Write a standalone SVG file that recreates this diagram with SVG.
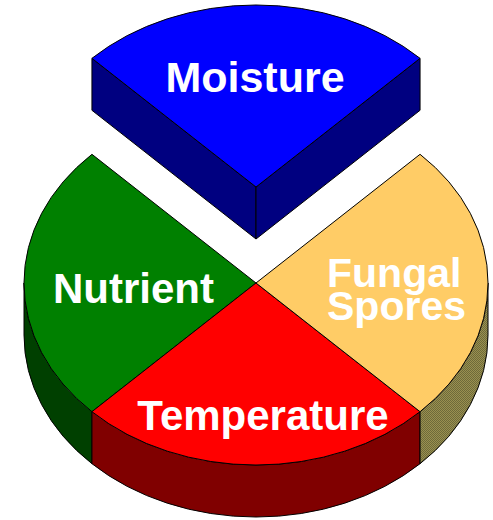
<svg xmlns="http://www.w3.org/2000/svg" width="493" height="520" viewBox="0 0 493 520">
<style>
path,polygon{stroke:#000;stroke-width:1;stroke-linejoin:round}
text{font-family:"Liberation Sans",Arial,sans-serif;font-weight:bold;fill:#fff;font-size:41px}
.c{text-anchor:middle}
.l{font-size:42px}
</style>
<defs>
<pattern id="dither" width="2" height="2" patternUnits="userSpaceOnUse">
<rect width="2" height="2" fill="#9a9050"/>
<rect width="1" height="1" fill="#6e6a3a"/>
<rect x="1" y="1" width="1" height="1" fill="#6e6a3a"/>
</pattern>
</defs>
<rect width="493" height="520" fill="#fff"/>
<g id="moisture">
<polygon points="91.95,58.3 256,187 256,239 91.95,110.3" fill="#000080"/>
<polygon points="256,187 420.05,58.3 420.05,110.3 256,239" fill="#000080"/>
<path d="M256,187 L91.95,58.3 A232,182 0 0,1 420.05,58.3 Z" fill="#0000ff"/>
<text class="c" x="255" y="92" style="font-size:43px">Moisture</text>
</g>
<g id="nutrient">
<path d="M24,283 A232,182 0 0,0 91.95,411.7 L91.95,463.7 A232,182 0 0,1 24,335 Z" fill="#004000"/>
<path d="M256,283 L91.95,154.3 A232,182 0 0,0 91.95,411.7 Z" fill="#008000"/>
<text class="c l" x="133.5" y="303">Nutrient</text>
</g>
<g id="temperature">
<path d="M91.95,411.7 A232,182 0 0,0 420.05,411.7 L420.05,463.7 A232,182 0 0,1 91.95,463.7 Z" fill="#800000"/>
<path d="M256,283 L91.95,411.7 A232,182 0 0,0 420.05,411.7 Z" fill="#ff0000"/>
<text class="c l" x="263" y="430">Temperature</text>
</g>
<g id="fungal-spores">
<path d="M420.05,411.7 A232,182 0 0,0 488,283 L488,335 A232,182 0 0,1 420.05,463.7 Z" fill="url(#dither)"/>
<path d="M256,283 L420.05,411.7 A232,182 0 0,0 420.05,154.3 Z" fill="#ffcc66"/>
<text x="327" y="287">Fungal</text>
<text x="327" y="320">Spores</text>
</g>
<g id="connectors"/>
</svg>
